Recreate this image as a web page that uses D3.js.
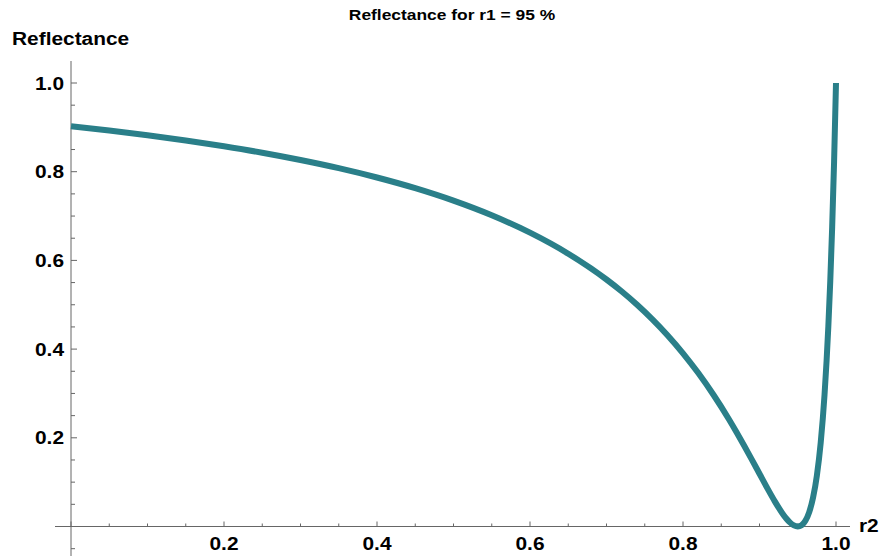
<!DOCTYPE html>
<html>
<head>
<meta charset="utf-8">
<script src="https://cdn.jsdelivr.net/npm/d3@7"></script>
<style>
  body { margin: 0; background: #fff; }
  text { font-family: "Liberation Sans", Arial, sans-serif; font-weight: bold; fill: #000; }
</style>
</head>
<body>
<div id="chart"></div>
<script>
// r2 values and reflectance (r1 = 95 %)
const r2 = [0, 0.05, 0.1, 0.15, 0.2, 0.25, 0.3, 0.35, 0.4, 0.45, 0.5, 0.55, 0.6, 0.65, 0.7,
  0.72, 0.74, 0.76, 0.78, 0.8, 0.82, 0.84, 0.86, 0.87, 0.88, 0.89, 0.9, 0.91, 0.92, 0.93,
  0.935, 0.94, 0.945, 0.95, 0.955, 0.96, 0.965, 0.97, 0.975, 0.98, 0.985, 0.99, 0.9925,
  0.995, 0.9975, 1.0];
const reflectance = [0.9025, 0.8928, 0.8822, 0.8704, 0.8573, 0.8428, 0.8264, 0.8080, 0.7869,
  0.7628, 0.7347, 0.7017, 0.6625, 0.6151, 0.5569, 0.5298, 0.4999, 0.4671, 0.4308, 0.3906,
  0.3460, 0.2965, 0.2419, 0.2126, 0.1822, 0.1508, 0.1189, 0.0871, 0.0567, 0.0295, 0.0180,
  0.0087, 0.0024, 0, 0.0029, 0.0129, 0.0325, 0.0649, 0.1149, 0.1890, 0.2968, 0.4519,
  0.5535, 0.6756, 0.8225, 1.0];
const xTicks = [0.2, 0.4, 0.6, 0.8, 1.0];
const yTicks = [0.2, 0.4, 0.6, 0.8, 1.0];

const width = 883, height = 556;
const stretch = 1.16; // the original text is a bit wider than Arial
const svg = d3.select('#chart').append('svg')
  .attr('width', width)
  .attr('height', height);

const x = d3.scaleLinear().domain([0, 1]).range([71, 836]);
const y = d3.scaleLinear().domain([0, 1]).range([526.5, 83]);

const minorX = d3.range(0, 21).map(i => i * 0.05);
const minorY = d3.range(-1, 22).map(i => i * 0.05);

// axis lines
svg.append('line')
  .attr('x1', 55).attr('x2', 850)
  .attr('y1', y(0)).attr('y2', y(0))
  .attr('stroke', '#666').attr('stroke-width', 1);
svg.append('line')
  .attr('x1', x(0)).attr('x2', x(0))
  .attr('y1', 61).attr('y2', height)
  .attr('stroke', '#666').attr('stroke-width', 1);

// x ticks (inward)
svg.append('g').selectAll('line')
  .data(minorX)
  .enter().append('line')
  .attr('x1', d => x(d)).attr('x2', d => x(d))
  .attr('y1', y(0))
  .attr('y2', d => y(0) - (Math.round(d * 20) % 4 === 0 ? 5 : 3))
  .attr('stroke', '#666');

// y ticks (inward)
svg.append('g').selectAll('line')
  .data(minorY.filter(d => y(d) > 61 && y(d) < height))
  .enter().append('line')
  .attr('y1', d => y(d)).attr('y2', d => y(d))
  .attr('x1', x(0))
  .attr('x2', d => x(0) + (Math.round(d * 20) % 4 === 0 ? 6 : 4))
  .attr('stroke', '#666');

function label(px, py, txt, size, anchor) {
  svg.append('text')
    .attr('transform', `translate(${px},${py}) scale(${stretch},1)`)
    .attr('text-anchor', anchor || 'start')
    .style('font-size', size + 'px')
    .text(txt);
}

// tick labels
xTicks.forEach(d => label(x(d), 550, d.toFixed(1), 18, 'middle'));
yTicks.forEach(d => label(64, y(d) + 6.5, d.toFixed(1), 18, 'end'));

// titles
label(452, 20, 'Reflectance for r1 = 95 %', 15, 'middle');
label(12, 45, 'Reflectance', 18);
label(859, 532, 'r2', 18);

// curve
const line = d3.line()
  .x((d, i) => x(r2[i]))
  .y(d => y(d))
  .curve(d3.curveMonotoneX);

svg.append('path')
  .datum(reflectance)
  .attr('d', line)
  .attr('fill', 'none')
  .attr('stroke', '#2a7f89')
  .attr('stroke-width', 6)
  .attr('stroke-linejoin', 'round');
</script>
</body>
</html>
